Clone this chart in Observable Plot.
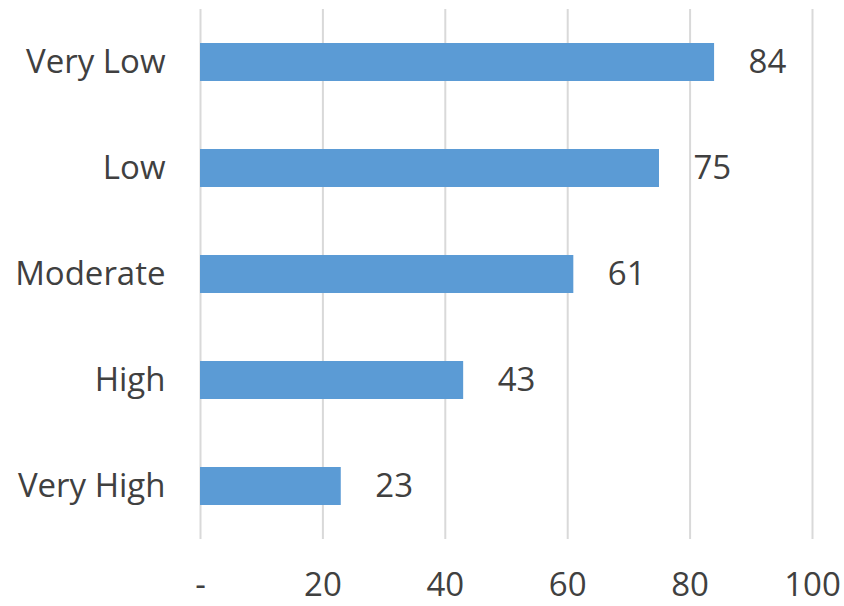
<!DOCTYPE html>
<html>
<head>
<meta charset="utf-8">
<script src="https://cdn.jsdelivr.net/npm/d3@7"></script>
<script src="https://cdn.jsdelivr.net/npm/@observablehq/plot@0.6"></script>
<style>
  html, body { margin: 0; padding: 0; background: #fff; }
  svg { display: block; }
</style>
</head>
<body>
<div id="chart"></div>
<script>
const categories = ["Very Low", "Low", "Moderate", "High", "Very High"];
const values = [84, 75, 61, 43, 23];
const xTicks = [0, 20, 40, 60, 80, 100];
const xTickLabels = ["-", "20", "40", "60", "80", "100"];

const data = categories.map((c, i) => ({category: c, value: values[i]}));
const textColor = "#404040";
const font = "'Open Sans', sans-serif";

const chart = Plot.plot({
  width: 844,
  height: 606,
  marginLeft: 200,
  marginRight: 32,
  marginTop: 9,
  marginBottom: 67,
  style: {fontFamily: font, fontSize: "33px", color: textColor, background: "#fff"},
  x: {domain: [0, 100]},
  y: {domain: categories, paddingInner: 0.64, paddingOuter: 0.32},
  marks: [
    Plot.gridX(xTicks, {stroke: "#d9d9d9", strokeOpacity: 1, strokeWidth: 2}),
    Plot.barX(data, {y: "category", x: "value", fill: "#5b9bd5"}),
    Plot.text(data, {y: "category", x: "value", text: d => String(d.value), dx: 34, textAnchor: "start", fill: textColor, fontSize: 33}),
    Plot.axisX(xTicks, {tickSize: 0, tickPadding: 33, tickFormat: (d) => xTickLabels[xTicks.indexOf(d)], fontSize: 33, fill: textColor, label: null}),
    Plot.axisY({tickSize: 0, tickPadding: 35, fontSize: 33, fill: textColor, label: null})
  ]
});
document.getElementById("chart").appendChild(chart);
</script>
</body>
</html>
